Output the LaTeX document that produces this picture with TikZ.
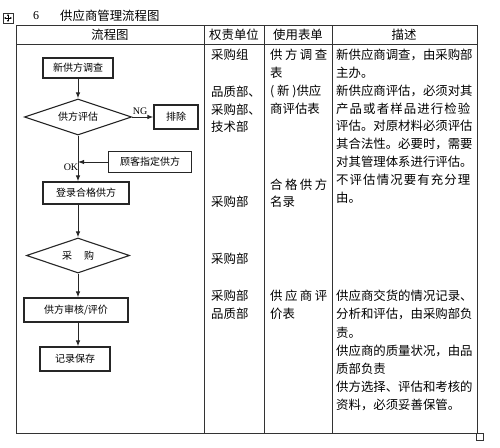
\documentclass[tikz,border=0pt]{standalone}
\usepackage{fontspec}
\setmainfont{Noto Sans CJK SC}
\newfontfamily\latinfont{Liberation Serif}
\newfontfamily\spreadA[LetterSpace=9]{Noto Sans CJK SC}
\newfontfamily\spreadB[LetterSpace=20]{Noto Sans CJK SC}
\usetikzlibrary{shapes.geometric,arrows.meta}

\begin{document}
\begin{tikzpicture}[x=1pt,y=-1pt,
  tableline/.style={draw=black!80, line width=0.9pt},
  flowbox/.style={draw=black!85, line width=1.1pt, inner sep=0pt, font=\fontsize{10}{12}\selectfont},
  flowdia/.style={flowbox, diamond, aspect=3},
  flowarrow/.style={draw=black!85, line width=1pt, -{Latex[length=6pt,width=4.5pt]}},
  flowlabel/.style={inner sep=0pt, font=\latinfont\fontsize{10}{12}\selectfont},
  headtext/.style={inner sep=0pt, font=\fontsize{12.4}{14}\selectfont},
  celltext/.style={anchor=north west, inner sep=0pt, align=left, font=\fontsize{12.4}{18}\selectfont}]
\useasboundingbox (0,0) rectangle (500,447);

% title line
\node[draw=black!80, line width=0.8pt, minimum size=10pt, inner sep=0pt] (movebox) at (8,18) {};
\draw[line width=0.6pt, <->, >={Stealth[length=2pt,width=2pt]}] ([yshift=-1.5pt]movebox.north) -- ([yshift=1.5pt]movebox.south);
\draw[line width=0.6pt, <->, >={Stealth[length=2pt,width=2pt]}] ([xshift=1.5pt]movebox.west) -- ([xshift=-1.5pt]movebox.east);
\node[inner sep=0pt, font=\latinfont\fontsize{12}{14}\selectfont] (secno) at (36,16) {6};
\node[headtext, anchor=west] (title) at (60,16) {供应商管理流程图};

% table
\draw[tableline] (16,25) rectangle (477,433);
\draw[tableline] (16,44) -- (477,44);
\foreach \x in {204,264,332}
  \draw[tableline] (\x,25) -- (\x,433);
\node[draw=black!80, line width=0.8pt, minimum size=7pt, inner sep=0pt] (sizebox) at (479.5,436.5) {};

\node[headtext] (hflow) at (110,35) {流程图};
\node[headtext] (hduty) at (234,35) {权责单位};
\node[headtext] (hform) at (298,35) {使用表单};
\node[headtext] (hdesc) at (404,35) {描述};

% flow chart
\node[flowbox, minimum width=70pt, minimum height=20pt] (survey) at (78,68) {新供方调查};
\node[flowdia, minimum width=107pt, minimum height=36pt] (evaluate) at (78,117) {供方评估};
\node[flowbox, minimum width=44pt, minimum height=24pt] (reject) at (176,117) {排除};
\node[flowbox, minimum width=83pt, minimum height=21pt] (assigned) at (150,162) {顾客指定供方};
\node[flowbox, minimum width=86pt, minimum height=22pt] (register) at (86,193) {登录合格供方};
\node[flowdia, minimum width=103pt, minimum height=35pt] (purchase) at (78,255.5) {采\hspace{12pt}购};
\node[flowbox, minimum width=104pt, minimum height=24pt] (review) at (76,310) {供方审核/评价};
\node[flowbox, minimum width=70pt, minimum height=24pt] (record) at (75,359) {记录保存};
\coordinate (okjoin) at (evaluate.south |- assigned.west);
\node[flowlabel] (nglabel) at (140,111) {NG};
\node[flowlabel] (oklabel) at (71,167) {OK};

\draw[flowarrow] (survey) -- (evaluate);
\draw[flowarrow] (evaluate) -- (reject);
\draw[flowarrow] (evaluate.south) -- (evaluate.south |- register.north);
\draw[flowarrow] (assigned) -- (okjoin);
\draw[flowarrow] (purchase.north |- register.south) -- (purchase.north);
\draw[flowarrow] (purchase.south) -- (purchase.south |- review.north);
\draw[flowarrow] (purchase.south |- review.south) -- (purchase.south |- record.north);

% responsible units
\node[celltext] (dutyA) at (211,49) {采购组};
\node[celltext, font=\fontsize{12.4}{17.5}\selectfont] (dutyB) at (211,86) {品质部、\\采购部、\\技术部};
\node[celltext] (dutyC) at (211,196) {采购部};
\node[celltext] (dutyD) at (211,253) {采购部};
\node[celltext] (dutyE) at (211,290) {采购部\\品质部};

% forms
\node[celltext] (formA) at (270,49) {{\spreadB 供方调查}\\表\\( 新 )供应\\商评估表};
\node[celltext, font=\fontsize{12.4}{17}\selectfont] (formB) at (270,179) {{\spreadB 合格供方}\\名录};
\node[celltext] (formC) at (270,290) {{\spreadB 供应商评}\\价表};

% description
\node[celltext, font=\fontsize{12.4}{17.8}\selectfont] (descA) at (336,49) {新供应商调查，由采购部\\主办。\\新供应商评估，必须对其\\{\spreadA 产品或者样品进行检验}\\评估。对原材料必须评估\\其合法性。必要时，需要\\对其管理体系进行评估。\\{\spreadA 不评估情况要有充分理}\\由。};
\node[celltext, font=\fontsize{12.4}{18.2}\selectfont] (descB) at (336,290) {供应商交货的情况记录、\\分析和评估，由采购部负\\责。\\供应商的质量状况，由品\\质部负责\\供方选择、评估和考核的\\资料，必须妥善保管。};
\end{tikzpicture}
\end{document}
